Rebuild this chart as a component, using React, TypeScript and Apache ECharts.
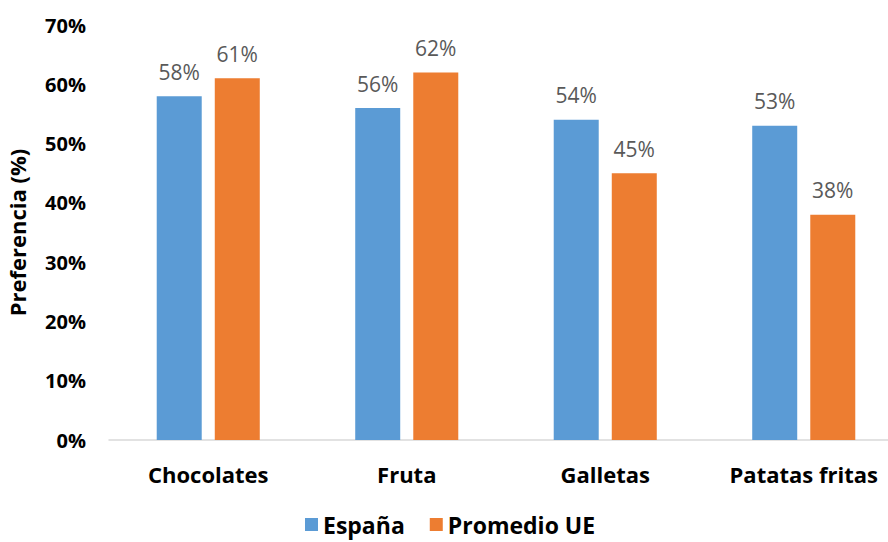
import React, { useEffect, useRef } from "react";
import * as echarts from "echarts";

const categories = ["Chocolates", "Fruta", "Galletas", "Patatas fritas"];
const espana = [58, 56, 54, 53];
const promedioUE = [61, 62, 45, 38];
const seriesNames = ["España", "Promedio UE"];
const yAxisName = "Preferencia (%)";

const FONT = "'Open Sans', 'Noto Sans', sans-serif";

export default function App() {
  const ref = useRef<HTMLDivElement>(null);
  useEffect(() => {
    if (!ref.current) return;
    const chart = echarts.init(ref.current, undefined, { renderer: "svg" });
    const labelStyle = {
      show: true,
      position: "top" as const,
      distance: 14,
      color: "#595959",
      fontFamily: FONT,
      fontSize: 21,
      formatter: "{c}%",
    };
    chart.setOption({
      animation: false,
      textStyle: { fontFamily: FONT },
      grid: {
        left: 109,
        top: 25,
        width: 794,
        height: 415,
        containLabel: false,
        outerBoundsMode: "none",
      },
      legend: {
        data: seriesNames,
        top: 513,
        left: 305,
        padding: 0,
        icon: "rect",
        itemWidth: 13,
        itemHeight: 13,
        itemGap: 25,
        textStyle: {
          fontFamily: FONT,
          fontSize: 23,
          lineHeight: 23,
          fontWeight: "bold",
          color: "#000",
        },
      },
      xAxis: {
        type: "category",
        data: categories,
        axisLine: { show: true, lineStyle: { color: "#D9D9D9", width: 1.5 } },
        axisTick: { show: false },
        axisLabel: {
          margin: 23,
          color: "#000",
          fontFamily: FONT,
          fontSize: 22,
          fontWeight: "bold",
          interval: 0,
        },
      },
      yAxis: {
        type: "value",
        min: 0,
        max: 70,
        interval: 10,
        name: yAxisName,
        nameLocation: "middle",
        nameRotate: 90,
        nameGap: 81,
        nameTextStyle: { color: "#000", fontFamily: FONT, fontSize: 22, fontWeight: "bold" },
        axisLine: { show: false },
        axisTick: { show: false },
        splitLine: { show: false },
        axisLabel: {
          formatter: "{value}%",
          margin: 23,
          color: "#000",
          fontFamily: FONT,
          fontSize: 20,
          fontWeight: "bold",
        },
      },
      series: [
        {
          name: seriesNames[0],
          type: "bar",
          data: espana,
          barWidth: 45,
          barGap: "29%",
          itemStyle: { color: "#5B9BD5" },
          label: labelStyle,
        },
        {
          name: seriesNames[1],
          type: "bar",
          data: promedioUE,
          barWidth: 45,
          barGap: "29%",
          itemStyle: { color: "#ED7D31" },
          label: labelStyle,
        },
      ],
    });
    return () => chart.dispose();
  }, []);
  return (
    <div
      ref={ref}
      style={{ position: "fixed", left: 0, top: 0, width: 888, height: 542, background: "#fff" }}
    />
  );
}
